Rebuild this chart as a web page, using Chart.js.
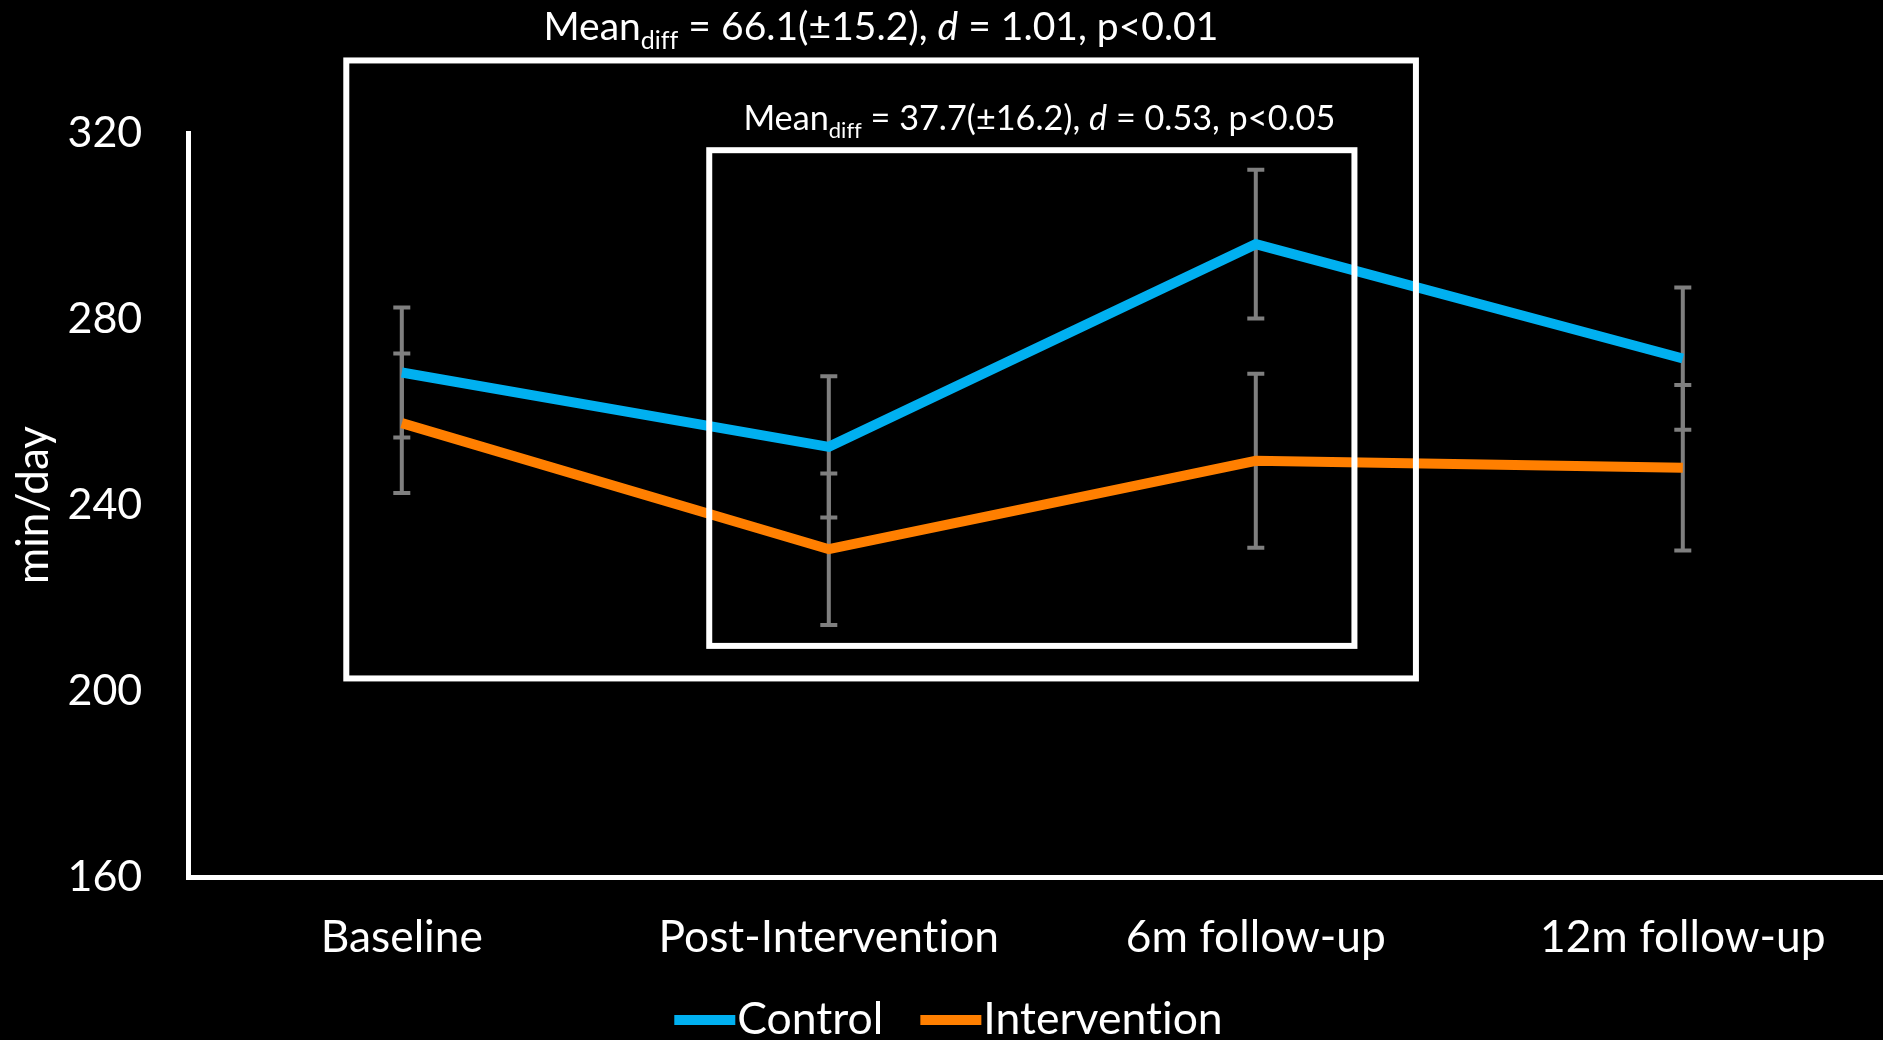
<!DOCTYPE html>
<html>
<head>
<meta charset="utf-8">
<title>Sedentary time (min/day)</title>
<script src="https://cdn.jsdelivr.net/npm/chart.js@4.4.1/dist/chart.umd.min.js"></script>
<style>
  html, body { margin: 0; padding: 0; background: #000; overflow: hidden; width: 1883px; height: 1040px; }
  canvas { display: block; font-variant-ligatures: none; }
</style>
</head>
<body>
<canvas id="chart" width="1900" height="1040" style="width:1900px;height:1040px"></canvas>
<script>
// ---- data ----
const categories = ['Baseline', 'Post-Intervention', '6m follow-up', '12m follow-up'];
const seriesNames = ['Control', 'Intervention'];
const controlMean = [268.5, 252.5, 296.1, 271.5];
const controlErr = [14.0, 15.2, 16.0, 15.3];
const interventionMean = [257.6, 230.5, 249.5, 248.0];
const interventionErr = [15.0, 16.3, 18.7, 17.8];
const yTicks = [160, 200, 240, 280, 320];
const yTitle = 'min/day';

// group comparison brackets: [first category .. last category] x [low .. high] in axis units
const comparisonText = [
  ['Mean', 'diff', ' = 66.1(±15.2), ', 'd', ' = 1.01, p<0.01'],
  ['Mean', 'diff', ' = 37.7(±16.2), ', 'd', ' = 0.53, p<0.05']
];
const comparisonBoxX = [[-0.13, 2.375], [0.72, 2.231]];
const comparisonBoxY = [[202.7, 335.6], [209.7, 316.3]];
const comparisonLabelAt = [[1.122, 343.0], [1.493, 323.4]];

// ---- styling ----
const FONT = 'Lato';
const BLUE = '#00B0F0';
const ORANGE = '#FF7F00';
const GREY = '#7F7F7F';
const WHITE = '#FFFFFF';

Chart.defaults.color = WHITE;
Chart.defaults.font.family = FONT;

// a tiny letter spacing keeps the "ti" pair from being joined into a ligature
const noLigatures = {
  id: 'noLigatures',
  beforeDraw(chart) {
    if ('letterSpacing' in chart.ctx) chart.ctx.letterSpacing = '0.01px';
  }
};

const errorBars = {
  id: 'errorBars',
  beforeDatasetsDraw(chart) {
    const { ctx, scales: { x, y } } = chart;
    ctx.save();
    ctx.strokeStyle = GREY;
    ctx.lineWidth = 4;
    ctx.lineCap = 'butt';
    chart.data.datasets.forEach(ds => {
      ds.data.forEach((v, j) => {
        const px = x.getPixelForValue(j);
        const hi = y.getPixelForValue(v + ds.errors[j]);
        const lo = y.getPixelForValue(v - ds.errors[j]);
        ctx.beginPath();
        ctx.moveTo(px, hi); ctx.lineTo(px, lo);
        ctx.moveTo(px - 8.5, hi); ctx.lineTo(px + 8.5, hi);
        ctx.moveTo(px - 8.5, lo); ctx.lineTo(px + 8.5, lo);
        ctx.stroke();
      });
    });
    ctx.restore();
  }
};

function drawRichLine(ctx, parts, cx, cy, size) {
  // parts: main text, subscript, main text, italic, main text
  const styles = [
    { f: `${size}px ${FONT}`, dy: 0 },
    { f: `${Math.round(size * 0.65)}px ${FONT}`, dy: size * 0.24 },
    { f: `${size}px ${FONT}`, dy: 0 },
    { f: `italic ${size}px ${FONT}`, dy: 0 },
    { f: `${size}px ${FONT}`, dy: 0 }
  ];
  let total = 0;
  const widths = parts.map((t, i) => { ctx.font = styles[i].f; const w = ctx.measureText(t).width; total += w; return w; });
  let xPos = cx - total / 2;
  const base = cy + size * 0.36;
  ctx.textBaseline = 'alphabetic';
  ctx.textAlign = 'left';
  parts.forEach((t, i) => {
    ctx.font = styles[i].f;
    ctx.fillText(t, xPos, base + styles[i].dy);
    xPos += widths[i];
  });
}

const comparisons = {
  id: 'comparisons',
  afterDatasetsDraw(chart) {
    const { ctx, scales: { x, y } } = chart;
    ctx.save();
    ctx.strokeStyle = WHITE;
    ctx.lineWidth = 6;
    comparisonBoxX.forEach((bx, i) => {
      const l = x.getPixelForValue(bx[0]);
      const r = x.getPixelForValue(bx[1]);
      const t = y.getPixelForValue(comparisonBoxY[i][1]);
      const b = y.getPixelForValue(comparisonBoxY[i][0]);
      ctx.strokeRect(l, t, r - l, b - t);
    });
    ctx.fillStyle = WHITE;
    const sizes = [39, 34.2];
    comparisonText.forEach((parts, i) => {
      const cx = x.getPixelForValue(comparisonLabelAt[i][0]);
      const cy = y.getPixelForValue(comparisonLabelAt[i][1]);
      drawRichLine(ctx, parts, cx, cy, sizes[i]);
    });
    ctx.restore();
  }
};

const lineLegend = {
  id: 'lineLegend',
  afterDraw(chart) {
    const { ctx } = chart;
    const size = 44.5, swatch = 61, gap = 2, itemGap = 37;
    ctx.save();
    ctx.font = `${size}px ${FONT}`;
    const items = chart.data.datasets.map(ds => ({ label: ds.label, color: ds.borderColor, w: ctx.measureText(ds.label).width }));
    const total = items.reduce((s, it) => s + swatch + gap + it.w, 0) + itemGap * (items.length - 1);
    let xPos = chart.width / 2 - 1.5 - total / 2;
    const cy = 1020;
    ctx.textBaseline = 'middle';
    ctx.textAlign = 'left';
    items.forEach(it => {
      ctx.fillStyle = it.color;
      ctx.fillRect(xPos, cy - 5, swatch, 10);
      ctx.fillStyle = WHITE;
      ctx.fillText(it.label, xPos + swatch + gap, cy);
      xPos += swatch + gap + it.w + itemGap;
    });
    ctx.restore();
  }
};

function build() {
  new Chart(document.getElementById('chart'), {
    type: 'line',
    data: {
      labels: categories,
      datasets: [
        { label: seriesNames[0], data: controlMean, errors: controlErr, borderColor: BLUE, backgroundColor: BLUE,
          borderWidth: 10, pointRadius: 0, pointHoverRadius: 0, tension: 0, borderCapStyle: 'butt', borderJoinStyle: 'miter', fill: false },
        { label: seriesNames[1], data: interventionMean, errors: interventionErr, borderColor: ORANGE, backgroundColor: ORANGE,
          borderWidth: 10, pointRadius: 0, pointHoverRadius: 0, tension: 0, borderCapStyle: 'butt', borderJoinStyle: 'miter', fill: false }
      ]
    },
    options: {
      responsive: false,
      animation: false,
      devicePixelRatio: 1,
      layout: { padding: { top: 133, right: 3.7, bottom: 0, left: 0 } },
      plugins: { legend: { display: false }, tooltip: { enabled: false } },
      events: [],
      scales: {
        x: {
          type: 'category',
          offset: true,
          grid: { display: false, drawTicks: false },
          border: { display: true, color: WHITE, width: 5 },
          ticks: { color: WHITE, font: { family: FONT, size: 44.3 }, padding: 34, maxRotation: 0, autoSkip: false },
          afterFit(s) { s.height = 163; }
        },
        y: {
          min: 160, max: 320,
          grid: { display: false, drawTicks: false },
          border: { display: true, color: WHITE, width: 5 },
          ticks: { color: WHITE, font: { family: FONT, size: 43 }, padding: 46 },
          afterBuildTicks(s) { s.ticks = yTicks.map(v => ({ value: v })); },
          title: { display: true, text: yTitle, color: WHITE, font: { family: FONT, size: 44 }, padding: { top: 7, bottom: 0 } },
          afterFit(s) { s.width = 188.3; }
        }
      }
    },
    plugins: [noLigatures, errorBars, comparisons, lineLegend]
  });
}

if (document.fonts && document.fonts.load) {
  Promise.all([
    document.fonts.load(`43px ${FONT}`),
    document.fonts.load(`italic 38px ${FONT}`)
  ]).then(build, build);
} else {
  build();
}
</script>
</body>
</html>
